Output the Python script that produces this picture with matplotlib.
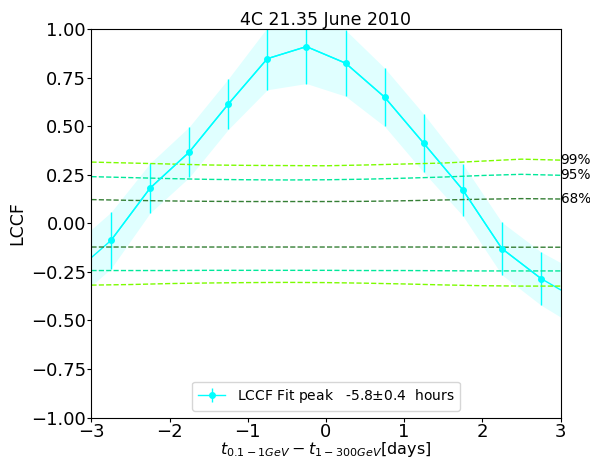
import numpy as np
import matplotlib
matplotlib.use("Agg")
from matplotlib import pyplot as plt

# LCCF values (edges at +-3 days only carry the line/band)
lag = [-3.0, -2.75, -2.25, -1.75, -1.25, -0.75, -0.25, 0.25, 0.75, 1.25, 1.75, 2.25, 2.75, 3.0]
lccf = [-0.176, -0.088, 0.181, 0.366, 0.613, 0.847, 0.909, 0.824, 0.649, 0.412, 0.172, -0.130, -0.284, -0.342]
lccf_err = [0.145, 0.145, 0.128, 0.13, 0.13, 0.16, 0.19, 0.17, 0.15, 0.15, 0.133, 0.135, 0.137, 0.14]

# confidence levels (upper / lower)
conf_lag = [-3, -2.5, -2, -1.5, -1, -0.5, 0, 0.5, 1, 1.5, 2, 2.5, 3]
c99_up = [0.315, 0.31, 0.305, 0.30, 0.298, 0.297, 0.296, 0.30, 0.305, 0.31, 0.32, 0.33, 0.325]
c95_up = [0.24, 0.235, 0.23, 0.226, 0.224, 0.223, 0.224, 0.227, 0.232, 0.238, 0.246, 0.252, 0.247]
c68_up = [0.122, 0.118, 0.115, 0.113, 0.112, 0.112, 0.112, 0.113, 0.116, 0.12, 0.124, 0.127, 0.125]
c68_lo = [-0.122, -0.122, -0.122, -0.122, -0.122, -0.122, -0.122, -0.122, -0.122, -0.122, -0.123, -0.123, -0.123]
c95_lo = [-0.243, -0.243, -0.243, -0.242, -0.242, -0.242, -0.242, -0.243, -0.243, -0.244, -0.245, -0.245, -0.245]
c99_lo = [-0.318, -0.315, -0.31, -0.307, -0.305, -0.304, -0.305, -0.308, -0.312, -0.317, -0.321, -0.323, -0.323]

lag = np.array(lag)
lccf = np.array(lccf)
lccf_err = np.array(lccf_err)

plt.rcParams.update({'font.size': 11})

fig = plt.figure(figsize=(5.9, 4.59), dpi=100)
ax = fig.add_axes([0.155, 0.09, 0.795, 0.847])

ax.fill_between(lag, lccf - lccf_err, lccf + lccf_err, color='#e0ffff', linewidth=0)
ax.plot(lag, lccf, color='cyan', linewidth=1)
ax.errorbar(lag[1:-1], lccf[1:-1], yerr=lccf_err[1:-1], color='cyan', marker='o', markersize=4,
            linewidth=1, label='LCCF Fit peak   -5.8$\\pm$0.4  hours')

for up, lo, col, lab in [(c99_up, c99_lo, '#7cfc00', '99%'),
                         (c95_up, c95_lo, '#00e89a', '95%'),
                         (c68_up, c68_lo, '#357f35', '68%')]:
    ax.plot(conf_lag, up, '--', color=col, linewidth=1)
    ax.plot(conf_lag, lo, '--', color=col, linewidth=1)
    ax.text(3.0, up[-1], lab, fontsize=9.8, va='center', ha='left')

ax.set_xlim(-3, 3)
ax.set_ylim(-1, 1)
ax.set_title('4C 21.35 June 2010', fontsize=12.5, pad=2)
ax.set_xlabel(r'$t_{0.1-1GeV}-t_{1-300GeV}$[days]', fontsize=11.5, labelpad=-1)
ax.set_ylabel('LCCF', fontsize=12.5, labelpad=3)
ax.tick_params(labelsize=13, length=3, pad=1)
ax.legend(loc='lower center', fontsize=10)

fig.savefig('out.png')
plt.close(fig)
